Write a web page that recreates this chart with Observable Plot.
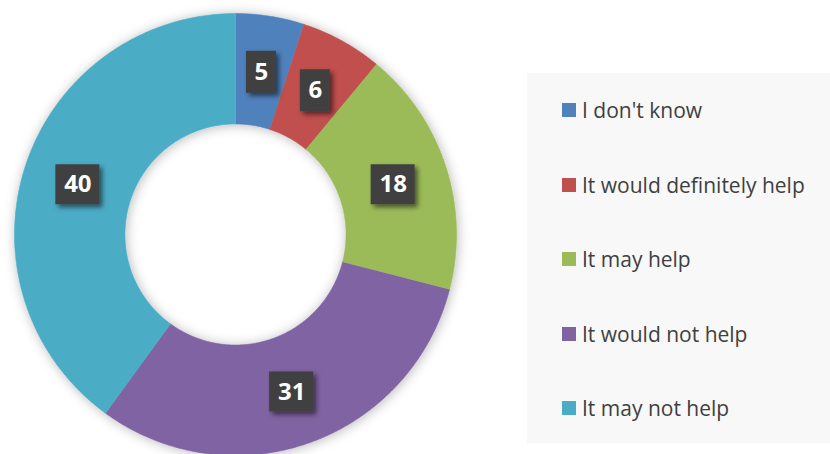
<!DOCTYPE html>
<html><head><meta charset="utf-8">
<script src="https://cdn.jsdelivr.net/npm/d3@7"></script>
<script src="https://cdn.jsdelivr.net/npm/@observablehq/plot@0.6"></script>
<style>
body{margin:0;background:#fff;font-family:"Open Sans",sans-serif;}
#wrap{position:relative;width:830px;height:454px;overflow:hidden;background:#fff;}
#wrap svg{position:absolute;left:0;top:0;}
#legend{position:absolute;left:527px;top:73px;width:303px;height:370px;background:#f8f8f8;z-index:2;}
.item{position:absolute;left:35px;height:30px;display:flex;align-items:center;white-space:nowrap;color:#404040;font-size:21px;}
.sw{width:14px;height:14px;margin-right:6px;flex:none;}
</style></head><body>
<div id="wrap"><div id="legend"></div></div>
<script>
const categories = ["I don't know", "It would definitely help", "It may help", "It would not help", "It may not help"];
const values = [5, 6, 18, 31, 40];
const colors = ["#4F81BD", "#C0504D", "#9BBB59", "#8064A2", "#4BACC6"];

const total = d3.sum(values);
const outerR = 1, innerR = 0.5, labelR = 0.75;
const slicePts = [];
const labels = [];
let cum = 0;
categories.forEach((c, i) => {
  const a0 = cum / total * 2 * Math.PI;
  cum += values[i];
  const a1 = cum / total * 2 * Math.PI;
  const n = Math.max(2, Math.ceil((a1 - a0) / (Math.PI / 360)));
  for (let k = 0; k <= n; k++) {
    const a = a0 + (a1 - a0) * k / n;
    slicePts.push({category: c, x: outerR * Math.sin(a), y: outerR * Math.cos(a)});
  }
  for (let k = n; k >= 0; k--) {
    const a = a0 + (a1 - a0) * k / n;
    slicePts.push({category: c, x: innerR * Math.sin(a), y: innerR * Math.cos(a)});
  }
  const am = (a0 + a1) / 2;
  labels.push({category: c, value: values[i], x: labelR * Math.sin(am), y: labelR * Math.cos(am)});
});

const cx = 235, cy = 234, R = 221;
const chart = Plot.plot({
  width: 830, height: 454,
  margin: 0,
  x: {domain: [-1, 1], range: [cx - R, cx + R], axis: null},
  y: {domain: [-1, 1], range: [cy + R, cy - R], axis: null},
  color: {domain: categories, range: colors},
  marks: [
    Plot.line(slicePts, {x: "x", y: "y", z: "category", fill: "category", stroke: "category", strokeWidth: 0.6}),
    Plot.rect(labels.filter(d => d.value < 10), {x1: "x", x2: "x", y1: "y", y2: "y", dy: 1.5,
      insetLeft: -15, insetRight: -15, insetTop: -21, insetBottom: -21, fill: "#404040"}),
    Plot.rect(labels.filter(d => d.value >= 10), {x1: "x", x2: "x", y1: "y", y2: "y", dy: 1.5,
      insetLeft: -22, insetRight: -22, insetTop: -20, insetBottom: -20, fill: "#404040"}),
    Plot.text(labels, {x: "x", y: "y", text: d => String(d.value), dy: 1.5, fill: "white",
      fontSize: 24, fontWeight: "bold", fontFamily: "Open Sans"})
  ]
});
document.getElementById("wrap").appendChild(chart);

const ns = "http://www.w3.org/2000/svg";
function el(tag, attrs, parent) {
  const e = document.createElementNS(ns, tag);
  for (const k in attrs) e.setAttribute(k, attrs[k]);
  if (parent) parent.appendChild(e);
  return e;
}
const defs = el("defs", {});
chart.insertBefore(defs, chart.firstChild);
const f1 = el("filter", {id: "ringShadow", x: "-20%", y: "-20%", width: "140%", height: "140%"}, defs);
el("feDropShadow", {dx: 1, dy: 1, stdDeviation: 6, "flood-color": "#000", "flood-opacity": 0.28}, f1);
const f2 = el("filter", {id: "boxShadow", x: "-50%", y: "-50%", width: "200%", height: "200%"}, defs);
el("feDropShadow", {dx: 3, dy: 3, stdDeviation: 2.5, "flood-color": "#000", "flood-opacity": 0.55}, f2);

const lineG = chart.querySelector('g[aria-label="line"]');
if (lineG) lineG.setAttribute("filter", "url(#ringShadow)");
chart.querySelectorAll('g[aria-label="rect"]').forEach(g => g.setAttribute("filter", "url(#boxShadow)"));

const legend = document.getElementById("legend");
const rowCenters = [37, 111.5, 186, 260.5, 335];
categories.forEach((c, i) => {
  const it = document.createElement("div");
  it.className = "item";
  it.style.top = (rowCenters[i] - 15) + "px";
  it.innerHTML = `<span class="sw" style="background:${colors[i]}"></span><span></span>`;
  it.lastChild.textContent = c;
  legend.appendChild(it);
});
</script>
</body></html>
